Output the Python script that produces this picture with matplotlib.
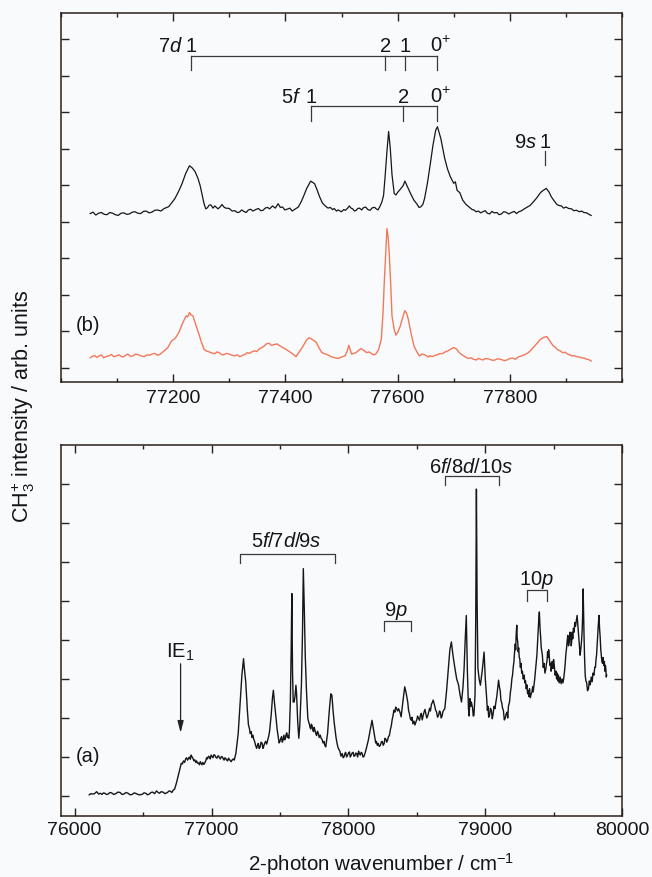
import matplotlib
matplotlib.use("Agg")
import matplotlib.pyplot as plt
from matplotlib.ticker import MultipleLocator

plt.rcParams['font.family'] = ['Liberation Sans', 'DejaVu Sans']
plt.rcParams['mathtext.fontset'] = 'custom'
plt.rcParams['mathtext.rm'] = 'Liberation Sans'
plt.rcParams['mathtext.it'] = 'Liberation Sans:italic'
plt.rcParams['mathtext.bf'] = 'Liberation Sans:bold'

# ---------------- data ----------------
# panel (b): upper black trace  (wavenumber, intensity in arb. tick units)
b_black = [(77052, 4.23), (77057, 4.27), (77062, 4.19), (77067, 4.24), (77072, 4.26), (77077, 4.21),
           (77082, 4.20), (77087, 4.26), (77092, 4.24), (77097, 4.20), (77102, 4.18), (77107, 4.24),
           (77112, 4.25), (77117, 4.21), (77122, 4.22), (77127, 4.27), (77132, 4.28), (77137, 4.24),
           (77142, 4.23), (77147, 4.29), (77152, 4.30), (77157, 4.25), (77162, 4.27), (77167, 4.32),
           (77172, 4.33), (77178, 4.30), (77184, 4.37), (77192, 4.42), (77203, 4.64), (77210, 4.85),
           (77216, 5.06), (77222, 5.32), (77229, 5.54), (77234, 5.48), (77239, 5.38), (77244, 5.20),
           (77248, 5.00), (77252, 4.72), (77255, 4.50), (77258, 4.36), (77261, 4.39), (77264, 4.46),
           (77267, 4.47), (77271, 4.38), (77274, 4.44), (77280, 4.36), (77284, 4.42), (77287, 4.48),
           (77291, 4.40), (77294, 4.38), (77300, 4.37), (77305, 4.30), (77310, 4.31), (77314, 4.26),
           (77318, 4.27), (77322, 4.33), (77326, 4.29), (77330, 4.26), (77334, 4.33), (77338, 4.35),
           (77342, 4.30), (77347, 4.34), (77352, 4.37), (77356, 4.31), (77360, 4.32), (77364, 4.38),
           (77368, 4.40), (77372, 4.36), (77377, 4.44), (77382, 4.38), (77387, 4.50), (77391, 4.40),
           (77395, 4.41), (77399, 4.33), (77403, 4.35), (77408, 4.38), (77412, 4.30), (77418, 4.36),
           (77423, 4.41), (77428, 4.55), (77432, 4.69), (77438, 4.92), (77445, 5.12), (77452, 5.05),
           (77456, 4.90), (77461, 4.69), (77466, 4.52), (77471, 4.44), (77476, 4.38), (77480, 4.40),
           (77484, 4.34), (77487, 4.37), (77491, 4.30), (77494, 4.33), (77500, 4.28), (77504, 4.34),
           (77507, 4.32), (77511, 4.38), (77514, 4.44), (77517, 4.38), (77520, 4.36), (77523, 4.30),
           (77526, 4.32), (77529, 4.37), (77532, 4.38), (77536, 4.33), (77539, 4.39), (77543, 4.41),
           (77547, 4.34), (77551, 4.32), (77555, 4.39), (77559, 4.40), (77562, 4.36), (77565, 4.33),
           (77568, 4.41), (77572, 4.55), (77575, 4.73), (77578, 5.30), (77581, 5.93), (77584, 6.48),
           (77587, 6.01), (77590, 5.30), (77594, 4.78), (77597, 4.74), (77600, 4.81), (77605, 4.90),
           (77610, 5.00), (77613, 5.12), (77616, 5.02), (77619, 4.92), (77624, 4.75), (77629, 4.60),
           (77635, 4.48), (77638, 4.40), (77641, 4.41), (77645, 4.48), (77648, 4.64), (77653, 5.05),
           (77658, 5.56), (77663, 6.10), (77668, 6.52), (77671, 6.61), (77674, 6.45), (77677, 6.29),
           (77684, 5.74), (77689, 5.45), (77694, 5.24), (77700, 5.06), (77703, 5.10), (77706, 4.87),
           (77711, 4.80), (77716, 4.60), (77722, 4.48), (77729, 4.39), (77733, 4.34), (77736, 4.33),
           (77740, 4.28), (77744, 4.30), (77748, 4.25), (77752, 4.28), (77756, 4.31), (77760, 4.24),
           (77764, 4.22), (77768, 4.29), (77772, 4.25), (77777, 4.26), (77781, 4.20), (77785, 4.22),
           (77789, 4.28), (77793, 4.27), (77798, 4.22), (77803, 4.26), (77808, 4.29), (77812, 4.23),
           (77816, 4.28), (77820, 4.30), (77825, 4.35), (77829, 4.39), (77836, 4.45), (77842, 4.55),
           (77848, 4.66), (77855, 4.81), (77860, 4.87), (77865, 4.92), (77870, 4.82), (77874, 4.69),
           (77879, 4.58), (77884, 4.48), (77888, 4.45), (77892, 4.44), (77896, 4.38), (77900, 4.41),
           (77905, 4.37), (77910, 4.36), (77914, 4.31), (77919, 4.32), (77924, 4.28), (77928, 4.30),
           (77932, 4.26), (77937, 4.25), (77941, 4.21), (77945, 4.18)]

# panel (b): lower red trace
b_red = [(77052, 0.28), (77056, 0.32), (77060, 0.34), (77064, 0.29), (77068, 0.33), (77072, 0.36),
         (77076, 0.28), (77080, 0.31), (77085, 0.33), (77090, 0.37), (77094, 0.31), (77099, 0.33),
         (77103, 0.36), (77107, 0.32), (77111, 0.30), (77115, 0.35), (77119, 0.38), (77124, 0.32),
         (77128, 0.33), (77133, 0.38), (77138, 0.36), (77143, 0.33), (77148, 0.31), (77153, 0.36),
         (77158, 0.35), (77162, 0.38), (77167, 0.40), (77172, 0.35), (77176, 0.37), (77180, 0.42),
         (77184, 0.47), (77190, 0.55), (77197, 0.74), (77204, 0.82), (77210, 0.97), (77216, 1.20),
         (77223, 1.43), (77226, 1.40), (77229, 1.52), (77232, 1.45), (77235, 1.43), (77240, 1.20),
         (77245, 0.97), (77250, 0.72), (77255, 0.51), (77260, 0.46), (77264, 0.44), (77269, 0.41),
         (77274, 0.39), (77278, 0.44), (77282, 0.42), (77286, 0.37), (77290, 0.36), (77295, 0.40),
         (77300, 0.38), (77305, 0.35), (77310, 0.33), (77314, 0.36), (77319, 0.31), (77324, 0.35),
         (77328, 0.37), (77332, 0.42), (77336, 0.40), (77340, 0.44), (77345, 0.47), (77349, 0.45),
         (77353, 0.52), (77358, 0.56), (77362, 0.60), (77366, 0.66), (77371, 0.68), (77375, 0.62),
         (77380, 0.64), (77385, 0.66), (77390, 0.61), (77395, 0.56), (77400, 0.52), (77405, 0.47),
         (77410, 0.42), (77415, 0.36), (77419, 0.31), (77425, 0.45), (77432, 0.61), (77437, 0.75),
         (77442, 0.83), (77448, 0.78), (77452, 0.74), (77455, 0.70), (77460, 0.55), (77465, 0.42),
         (77472, 0.38), (77477, 0.35), (77481, 0.31), (77488, 0.28), (77494, 0.26), (77500, 0.30),
         (77506, 0.33), (77510, 0.45), (77513, 0.62), (77516, 0.48), (77518, 0.38), (77522, 0.40),
         (77526, 0.42), (77530, 0.48), (77535, 0.53), (77540, 0.48), (77545, 0.42), (77549, 0.44),
         (77553, 0.40), (77557, 0.36), (77561, 0.38), (77566, 0.50), (77571, 0.79), (77574, 1.50),
         (77576, 2.26), (77579, 3.20), (77581, 3.82), (77583, 3.60), (77585, 3.17), (77588, 2.20),
         (77590, 1.43), (77594, 1.05), (77597, 0.90), (77601, 1.00), (77605, 1.16), (77609, 1.38),
         (77613, 1.57), (77616, 1.50), (77619, 1.34), (77624, 0.95), (77629, 0.61), (77634, 0.45),
         (77639, 0.33), (77644, 0.38), (77648, 0.36), (77652, 0.33), (77655, 0.30), (77658, 0.34),
         (77661, 0.31), (77666, 0.34), (77670, 0.36), (77675, 0.39), (77681, 0.40), (77686, 0.45),
         (77690, 0.47), (77695, 0.52), (77700, 0.56), (77705, 0.52), (77710, 0.42), (77714, 0.37),
         (77718, 0.33), (77722, 0.29), (77726, 0.26), (77731, 0.28), (77735, 0.24), (77740, 0.22),
         (77744, 0.26), (77748, 0.24), (77752, 0.22), (77757, 0.26), (77762, 0.25), (77767, 0.22),
         (77772, 0.21), (77778, 0.25), (77784, 0.24), (77790, 0.20), (77795, 0.22), (77800, 0.26),
         (77805, 0.27), (77810, 0.24), (77816, 0.31), (77821, 0.33), (77826, 0.36), (77833, 0.42),
         (77839, 0.51), (77847, 0.65), (77855, 0.79), (77861, 0.84), (77866, 0.86), (77871, 0.75),
         (77877, 0.61), (77881, 0.57), (77885, 0.50), (77890, 0.47), (77894, 0.42), (77899, 0.43),
         (77903, 0.38), (77907, 0.36), (77911, 0.33), (77915, 0.34), (77919, 0.31), (77924, 0.30),
         (77928, 0.28), (77933, 0.27), (77937, 0.24), (77941, 0.23), (77945, 0.19)]

# panel (a): full spectrum
a_trace = [(76106, 0.03), (76118, 0.06), (76130, 0.05), (76145, 0.06), (76160, 0.11), (76175, 0.05),
           (76187, 0.07), (76199, 0.04), (76210, 0.08), (76220, 0.07), (76232, 0.04), (76245, 0.05),
           (76258, 0.09), (76270, 0.08), (76285, 0.04), (76300, 0.06), (76316, 0.10), (76332, 0.09),
           (76346, 0.04), (76360, 0.05), (76375, 0.09), (76390, 0.07), (76405, 0.03), (76420, 0.04),
           (76435, 0.08), (76450, 0.06), (76470, 0.03), (76492, 0.04), (76507, 0.08), (76520, 0.07),
           (76532, 0.03), (76545, 0.05), (76558, 0.09), (76570, 0.10), (76584, 0.06), (76598, 0.13),
           (76610, 0.09), (76620, 0.07), (76632, 0.11), (76645, 0.10), (76660, 0.06), (76678, 0.09),
           (76690, 0.13), (76700, 0.12), (76710, 0.09), (76720, 0.15), (76731, 0.18), (76745, 0.35),
           (76758, 0.54), (76770, 0.72), (76779, 0.84), (76787, 0.82), (76795, 0.90), (76803, 0.86),
           (76811, 0.95), (76818, 0.98), (76825, 0.92), (76831, 0.96), (76838, 1.00), (76845, 0.94),
           (76851, 1.05), (76858, 1.00), (76865, 0.96), (76871, 0.90), (76878, 0.93), (76885, 0.86),
           (76891, 0.90), (76898, 0.84), (76905, 0.85), (76912, 0.80), (76918, 0.88), (76924, 0.84),
           (76930, 0.80), (76937, 0.86), (76944, 0.81), (76951, 0.85), (76958, 0.90), (76964, 0.98),
           (76970, 0.95), (76978, 1.02), (76985, 1.00), (76991, 0.95), (76997, 1.05), (77004, 1.01),
           (77010, 0.98), (77018, 1.06), (77025, 1.04), (77032, 0.99), (77040, 0.97), (77045, 1.02),
           (77051, 1.03), (77058, 0.98), (77065, 0.95), (77072, 1.01), (77080, 1.00), (77086, 0.95),
           (77092, 0.92), (77098, 0.98), (77104, 0.96), (77111, 0.92), (77118, 0.90), (77124, 0.97),
           (77130, 0.94), (77137, 0.91), (77144, 0.88), (77152, 0.93), (77160, 0.95), (77166, 0.92),
           (77172, 1.00), (77178, 1.09), (77195, 1.60), (77210, 2.41), (77222, 3.10), (77234, 3.52),
           (77242, 3.20), (77250, 2.93), (77262, 2.20), (77270, 1.82), (77277, 1.73), (77283, 1.60),
           (77290, 1.65), (77296, 1.50), (77303, 1.56), (77309, 1.45), (77315, 1.40), (77322, 1.30),
           (77330, 1.22), (77336, 1.30), (77342, 1.35), (77348, 1.22), (77355, 1.25), (77362, 1.38),
           (77370, 1.35), (77376, 1.22), (77382, 1.28), (77389, 1.36), (77396, 1.40), (77403, 1.33),
           (77410, 1.43), (77417, 1.52), (77424, 1.65), (77436, 2.07), (77445, 2.50), (77452, 2.71),
           (77460, 2.40), (77471, 2.03), (77480, 1.70), (77489, 1.48), (77494, 1.36), (77500, 1.40),
           (77506, 1.47), (77512, 1.52), (77517, 1.38), (77522, 1.42), (77529, 1.56), (77535, 1.44),
           (77540, 1.48), (77545, 1.58), (77550, 1.62), (77555, 1.50), (77560, 1.55), (77565, 1.48),
           (77569, 1.65), (77576, 2.40), (77582, 3.69), (77587, 5.19), (77592, 3.20), (77597, 2.41),
           (77604, 2.41), (77610, 2.55), (77617, 2.84), (77622, 2.60), (77630, 1.90), (77638, 1.48),
           (77645, 1.80), (77652, 2.40), (77657, 2.84), (77665, 4.20), (77671, 5.83), (77678, 4.80),
           (77685, 3.61), (77694, 2.70), (77704, 1.99), (77710, 1.90), (77715, 1.85), (77720, 1.76),
           (77725, 1.72), (77730, 1.84), (77735, 1.80), (77740, 1.70), (77745, 1.65), (77750, 1.76),
           (77755, 1.70), (77762, 1.60), (77768, 1.55), (77774, 1.66), (77780, 1.62), (77787, 1.50),
           (77795, 1.56), (77801, 1.48), (77808, 1.45), (77815, 1.36), (77822, 1.40), (77828, 1.30),
           (77835, 1.26), (77848, 1.60), (77862, 2.24), (77872, 2.62), (77880, 2.58), (77888, 2.20),
           (77896, 1.90), (77903, 1.70), (77910, 1.50), (77916, 1.38), (77923, 1.26), (77930, 1.20),
           (77938, 1.15), (77946, 1.02), (77955, 1.09), (77962, 0.98), (77968, 1.00), (77974, 1.08),
           (77980, 1.12), (77987, 1.00), (77995, 1.05), (78001, 1.10), (78008, 1.13), (78014, 1.00),
           (78020, 1.04), (78027, 1.10), (78035, 1.12), (78041, 1.02), (78048, 1.03), (78054, 1.10),
           (78061, 1.09), (78068, 1.00), (78075, 1.15), (78081, 1.08), (78088, 1.05), (78094, 1.12),
           (78100, 1.10), (78107, 1.00), (78114, 1.01), (78122, 1.10), (78130, 1.20), (78146, 1.43),
           (78160, 1.70), (78173, 1.94), (78184, 1.70), (78194, 1.48), (78200, 1.36), (78205, 1.40),
           (78212, 1.30), (78218, 1.35), (78226, 1.27), (78234, 1.30), (78241, 1.38), (78248, 1.40),
           (78255, 1.30), (78262, 1.35), (78268, 1.48), (78275, 1.45), (78281, 1.38), (78287, 1.43),
           (78293, 1.52), (78300, 1.55), (78307, 1.70), (78314, 1.80), (78320, 1.95), (78327, 2.07),
           (78333, 2.20), (78340, 2.15), (78346, 2.28), (78352, 2.24), (78360, 2.18), (78367, 2.24),
           (78377, 2.15), (78386, 2.03), (78398, 2.40), (78412, 2.80), (78422, 2.65), (78434, 2.41),
           (78440, 2.20), (78447, 2.10), (78453, 1.98), (78460, 1.94), (78466, 2.02), (78472, 1.85),
           (78480, 1.92), (78487, 1.82), (78494, 1.90), (78500, 1.95), (78506, 2.05), (78512, 2.00),
           (78520, 1.94), (78527, 2.07), (78533, 2.12), (78540, 1.95), (78546, 2.05), (78553, 2.15),
           (78560, 2.22), (78566, 2.12), (78573, 2.00), (78580, 2.05), (78587, 2.15), (78594, 2.25),
           (78600, 2.18), (78607, 2.35), (78614, 2.40), (78620, 2.46), (78626, 2.38), (78632, 2.30),
           (78638, 2.20), (78645, 2.15), (78652, 2.02), (78660, 2.07), (78666, 2.18), (78672, 2.15),
           (78679, 2.00), (78685, 2.05), (78691, 2.16), (78697, 2.20), (78705, 2.24), (78718, 2.70),
           (78731, 3.27), (78742, 3.75), (78753, 3.95), (78765, 3.60), (78779, 3.27), (78792, 3.00),
           (78806, 2.84), (78816, 2.60), (78827, 2.41), (78838, 2.80), (78846, 3.27), (78854, 4.00),
           (78862, 4.63), (78870, 3.20), (78878, 2.24), (78883, 2.05), (78888, 2.50), (78894, 2.30),
           (78899, 2.41), (78908, 2.25), (78913, 2.05), (78918, 2.07), (78926, 2.60), (78931, 4.50),
           (78936, 7.87), (78941, 5.00), (78947, 3.27), (78956, 3.00), (78965, 2.84), (78978, 3.20),
           (78992, 3.69), (79001, 3.00), (79011, 2.50), (79016, 2.20), (79020, 2.30), (79026, 2.02),
           (79032, 2.07), (79038, 2.25), (79045, 2.20), (79052, 1.98), (79058, 2.10), (79065, 2.30),
           (79072, 2.24), (79078, 2.40), (79085, 2.55), (79098, 2.97), (79104, 2.80), (79110, 2.70),
           (79115, 2.45), (79120, 2.41), (79127, 2.25), (79133, 2.20), (79140, 1.95), (79146, 1.99),
           (79153, 2.10), (79160, 2.15), (79165, 2.00), (79170, 2.30), (79178, 2.41), (79184, 2.65),
           (79190, 2.80), (79195, 3.00), (79200, 3.10), (79205, 3.30), (79210, 3.44), (79215, 3.70),
           (79220, 3.90), (79223, 3.75), (79226, 4.10), (79231, 4.38), (79234, 4.05), (79238, 3.95),
           (79241, 3.70), (79245, 3.80), (79249, 3.55), (79253, 3.52), (79257, 3.30), (79262, 3.40),
           (79267, 3.15), (79272, 3.20), (79278, 3.00), (79285, 3.10), (79290, 2.90), (79295, 2.95),
           (79300, 2.75), (79305, 2.85), (79310, 2.62), (79315, 2.70), (79320, 2.55), (79324, 2.75),
           (79330, 2.52), (79335, 2.60), (79342, 2.67), (79347, 2.80), (79351, 2.67), (79357, 2.85),
           (79362, 3.00), (79367, 3.20), (79372, 3.40), (79378, 3.61), (79383, 3.95), (79388, 4.30),
           (79392, 4.55), (79396, 4.72), (79401, 4.30), (79405, 4.10), (79410, 3.80), (79418, 3.61),
           (79424, 3.30), (79430, 3.40), (79437, 3.15), (79444, 3.27), (79448, 3.40), (79452, 3.45),
           (79456, 3.70), (79460, 3.55), (79464, 3.75), (79468, 3.61), (79473, 3.35), (79478, 3.40),
           (79482, 3.20), (79486, 3.30), (79490, 3.45), (79495, 3.27), (79500, 3.50), (79505, 3.35),
           (79511, 3.10), (79518, 3.20), (79522, 3.00), (79527, 3.15), (79531, 2.95), (79535, 3.10),
           (79541, 2.90), (79548, 3.05), (79555, 2.88), (79562, 3.00), (79568, 2.90), (79574, 3.01),
           (79580, 3.20), (79585, 3.40), (79590, 3.65), (79595, 3.80), (79600, 4.00), (79604, 4.12),
           (79609, 3.85), (79615, 3.95), (79620, 4.20), (79625, 4.10), (79629, 3.85), (79632, 3.95),
           (79636, 4.20), (79640, 4.03), (79645, 4.30), (79650, 4.20), (79655, 4.45), (79660, 4.35),
           (79666, 4.50), (79672, 4.63), (79677, 4.40), (79682, 4.20), (79688, 3.90), (79694, 3.61),
           (79700, 3.80), (79705, 4.00), (79709, 4.25), (79712, 4.60), (79716, 5.31), (79719, 4.70),
           (79722, 4.20), (79726, 3.60), (79731, 3.10), (79736, 2.95), (79742, 2.90), (79748, 2.70),
           (79755, 2.75), (79761, 2.95), (79768, 2.85), (79775, 3.05), (79782, 2.93), (79788, 3.15),
           (79795, 3.10), (79801, 3.30), (79806, 3.30), (79810, 3.50), (79814, 3.61), (79818, 3.85),
           (79822, 4.10), (79827, 4.40), (79832, 4.63), (79836, 4.30), (79840, 4.10), (79845, 3.75),
           (79849, 3.61), (79853, 3.45), (79858, 3.40), (79862, 3.55), (79867, 3.35), (79871, 3.45),
           (79875, 3.20), (79879, 3.35), (79882, 3.25), (79885, 3.05), (79888, 3.10)]

# assignment markers, panel (b)
series_7d = [77231, 77578, 77613, 77670]
labels_7d = ['1', '2', '1', '0$^{+}$']
series_5f = [77445, 77610, 77670]
labels_5f = ['1', '2', '0$^{+}$']
line_9s = 77862

# bracket groups, panel (a): (label, start, end)
groups_a = [('5$f$/7$d$/9$s$', 77205, 77902),
            ('9$p$', 78257, 78455),
            ('6$f$/8$d$/10$s$', 78705, 79104),
            ('10$p$', 79306, 79455)]
ie1 = 76774

xticks_b = [77200, 77400, 77600, 77800]
xticks_a = [76000, 77000, 78000, 79000, 80000]

# ---------------- styling ----------------
W, H = 652, 878
bg = '#f9fafc'
spine_c = '#2b211c'
txt_c = '#151515'
ann_c = '#3a3a3a'
FS_TICK = 14
FS_ANN = 14.5

fig = plt.figure(figsize=(W / 100, H / 100), dpi=100, facecolor=bg)
ax_b = fig.add_axes([61 / W, (H - 383) / H, 561 / W, 369 / H], facecolor=bg)
ax_a = fig.add_axes([61 / W, (H - 817) / H, 561 / W, 371 / H], facecolor=bg)


def style(ax, major, minor, nyt, pad):
    for s in ax.spines.values():
        s.set_color(spine_c)
        s.set_linewidth(1.1)
    ax.xaxis.set_major_locator(MultipleLocator(major))
    ax.xaxis.set_minor_locator(MultipleLocator(minor))
    ax.set_yticks(range(nyt))
    ax.set_yticklabels([])
    ax.tick_params(which='both', direction='in', top=True, right=True,
                   color=spine_c, width=1.0)
    ax.tick_params(which='major', length=5.5, labelsize=FS_TICK, labelcolor=txt_c, pad=pad)
    ax.tick_params(which='minor', length=2.8)
    ax.tick_params(axis='y', which='minor', left=False, right=False)


# ---- panel (b) ----
xb, yb = zip(*b_black)
xr, yr = zip(*b_red)
ax_b.plot(xb, yb, color='#161616', lw=0.9)
ax_b.plot(xr, yr, color='#f2785a', lw=1.0)
ax_b.set_xlim(77000, 78000)
ax_b.set_ylim(-0.384, 9.726)
style(ax_b, 200, 100, 10, 5)
ax_b.set_xticks(xticks_b)
ax_b.set_xticklabels([str(v) for v in xticks_b])

lw_ann = 0.9
# 7d series
y_line, y_tip = 8.55, 8.16
ax_b.plot([series_7d[0], series_7d[-1]], [y_line, y_line], color=ann_c, lw=lw_ann)
for x, lab in zip(series_7d, labels_7d):
    ax_b.plot([x, x], [y_line, y_tip], color=ann_c, lw=lw_ann)
    dx = 0 if '+' not in lab else 6
    ax_b.text(x + dx, 8.68, lab, ha='center', va='baseline', fontsize=FS_ANN, color=txt_c)
ax_b.text(series_7d[0] - 13, 8.68, '7$d$', ha='right', va='baseline', fontsize=FS_ANN, color=txt_c)
# 5f series
y_line, y_tip = 7.18, 6.77
ax_b.plot([series_5f[0], series_5f[-1]], [y_line, y_line], color=ann_c, lw=lw_ann)
for x, lab in zip(series_5f, labels_5f):
    ax_b.plot([x, x], [y_line, y_tip], color=ann_c, lw=lw_ann)
    dx = 0 if '+' not in lab else 6
    ax_b.text(x + dx, 7.29, lab, ha='center', va='baseline', fontsize=FS_ANN, color=txt_c)
ax_b.text(series_5f[0] - 16, 7.29, '5$f$', ha='right', va='baseline', fontsize=FS_ANN, color=txt_c)
# 9s
ax_b.plot([line_9s, line_9s], [5.56, 5.95], color=ann_c, lw=lw_ann)
ax_b.text(line_9s, 6.06, '1', ha='center', va='baseline', fontsize=FS_ANN, color=txt_c)
ax_b.text(line_9s - 14, 6.06, '9$s$', ha='right', va='baseline', fontsize=FS_ANN, color=txt_c)
ax_b.text(77027, 1.2, '(b)', ha='left', va='center', fontsize=FS_ANN, color=txt_c)

# ---- panel (a) ----
xa, ya = zip(*a_trace)
ax_a.plot(xa, ya, color='#161616', lw=1.0)
ax_a.set_xlim(75900, 80000)
ax_a.set_ylim(-0.513, 9.0)
style(ax_a, 1000, 500, 9, 3.5)
ax_a.set_xticks(xticks_a)
ax_a.set_xticklabels([str(v) for v in xticks_a])

bracket_y = {'5$f$/7$d$/9$s$': (6.21, 5.98, 6.42),
             '9$p$': (4.48, 4.22, 4.63),
             '6$f$/8$d$/10$s$': (8.21, 7.98, 8.31),
             '10$p$': (5.27, 4.99, 5.44)}
for lab, x0, x1 in groups_a:
    yl, yt, ytxt = bracket_y[lab]
    ax_a.plot([x0, x0, x1, x1], [yt, yl, yl, yt], color=ann_c, lw=lw_ann)
    ax_a.text((x0 + x1) / 2 - 5, ytxt, lab, ha='center', va='baseline',
              fontsize=FS_ANN, color=txt_c)

ax_a.annotate('', xy=(ie1, 1.62), xytext=(ie1, 3.39),
              arrowprops=dict(arrowstyle='-|>,head_length=0.7,head_width=0.18',
                              color='#222222', lw=0.9, shrinkA=0, shrinkB=0))
ax_a.text(ie1, 3.56, 'IE$_{1}$', ha='center', va='baseline', fontsize=FS_ANN, color=txt_c)
ax_a.text(76010, 1.05, '(a)', ha='left', va='center', fontsize=FS_ANN, color=txt_c)

# axis titles
fig.text(381 / W, 7 / H, '2-photon wavenumber / cm$^{-1}$', ha='center', va='baseline',
         fontsize=14.8, color=txt_c)
fig.text(23 / W, 1 - 406 / H, 'CH$_{3}^{+}$ intensity / arb. units', rotation=90,
         ha='center', va='center', fontsize=15.5, color=txt_c)

fig.savefig('out.png', dpi=100, facecolor=bg)
